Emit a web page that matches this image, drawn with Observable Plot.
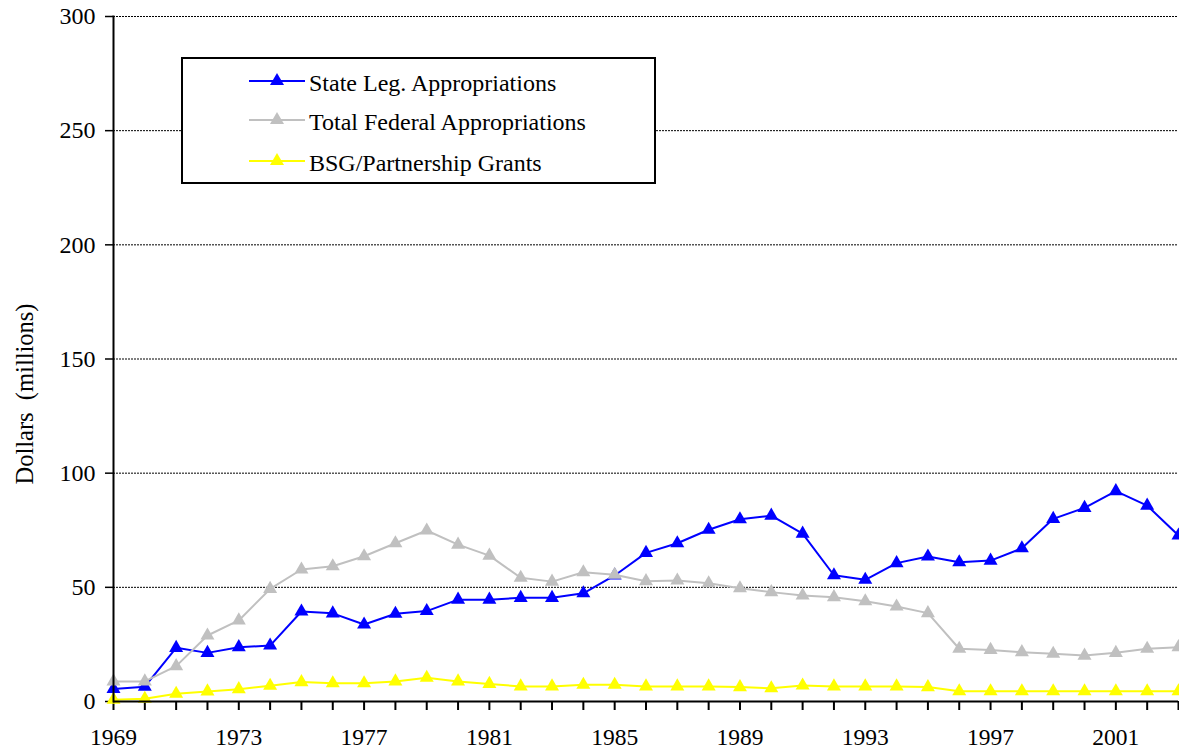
<!DOCTYPE html>
<html>
<head>
<meta charset="utf-8">
<script src="https://cdn.jsdelivr.net/npm/d3@7"></script>
<script src="https://cdn.jsdelivr.net/npm/@observablehq/plot@0.6"></script>
<style>
  html, body { margin: 0; padding: 0; background: #fff; overflow: hidden; }
  #wrap { position: relative; width: 1179px; height: 750px; font-family: "Liberation Serif", "Times New Roman", serif; }
  #wrap svg, #wrap svg text { font-family: "Liberation Serif", "Times New Roman", serif !important; }
  #legend { position: absolute; left: 181px; top: 57px; width: 471px; height: 123px; border: 2px solid #000; background: #fff; box-sizing: content-box; }
</style>
</head>
<body>
<div id="wrap"><div id="legend"></div></div>
<script>
const years = [1969,1970,1971,1972,1973,1974,1975,1976,1977,1978,1979,1980,1981,1982,1983,1984,1985,1986,1987,1988,1989,1990,1991,1992,1993,1994,1995,1996,1997,1998,1999,2000,2001,2002,2003];
const labeledYears = [1969,1973,1977,1981,1985,1989,1993,1997,2001];
const yTicks = [0,50,100,150,200,250,300];

const seriesNames = ["State Leg. Appropriations", "Total Federal Appropriations", "BSG/Partnership Grants"];
const seriesColors = ["#0000FF", "#C0C0C0", "#FFFF00"];

const stateLeg = [5.5,6.5,23.5,21.3,23.8,24.5,39.4,38.6,33.7,38.4,39.6,44.6,44.6,45.4,45.4,47.4,55.2,65.1,69.3,75.2,79.8,81.4,73.5,55.3,53.3,60.6,63.5,61.0,61.7,67.1,80.0,84.8,92.1,85.8,72.7];
const federal = [8.8,8.8,15.5,28.9,35.5,49.3,57.8,59.2,63.6,69.3,74.9,68.7,63.9,54.2,52.5,56.6,55.5,52.7,53.0,51.8,49.6,47.9,46.4,45.7,43.9,41.6,38.7,23.1,22.6,21.6,20.9,20.1,21.3,23.1,23.8];
const bsg = [0.8,1.2,3.4,4.4,5.4,6.9,8.5,8.0,8.0,8.8,10.4,8.8,7.7,6.6,6.6,7.3,7.3,6.6,6.6,6.6,6.3,5.8,7.0,6.6,6.6,6.6,6.3,4.5,4.5,4.5,4.5,4.5,4.5,4.5,4.5];

const yTitle = "Dollars\u00A0 (millions)";
const serif = "'Liberation Serif', 'Times New Roman', serif";

const seriesValues = [stateLeg, federal, bsg];
const seriesData = seriesValues.map((vals, s) =>
  years.map((yr, i) => ({year: yr, value: vals[i], series: seriesNames[s]}))
);

const seriesMarks = seriesData.flatMap((d, s) => [
  Plot.line(d, {x: "year", y: "value", stroke: seriesColors[s], strokeWidth: 2}),
  Plot.dot(d, {x: "year", y: "value", fill: seriesColors[s], stroke: "none", symbol: "triangle", r: 5.2})
]);

const chart = Plot.plot({
  width: 1179,
  height: 750,
  marginLeft: 113,
  marginRight: 1,
  marginTop: 16,
  marginBottom: 49,
  style: {fontFamily: serif, fontSize: "24px", color: "#000", background: "#fff", overflow: "hidden"},
  x: {domain: [1969, 2003]},
  y: {domain: [0, 300]},
  marks: [
    Plot.gridY(yTicks.filter(t => t > 0), {stroke: "#000", strokeOpacity: 1, strokeWidth: 1, strokeDasharray: "2,1"}),
    Plot.axisY({ticks: yTicks, tickSize: 8, tickPadding: 10, strokeWidth: 1.5, label: null, tickFormat: d => String(d), fontSize: 24, fontFamily: serif}),
    Plot.axisX({ticks: years, tickSize: 9, tickPadding: 18, strokeWidth: 2, label: null,
      tickFormat: d => labeledYears.includes(d) ? String(d) : "", fontSize: 23.5, fontFamily: serif}),
    ...seriesMarks,
    Plot.frame({anchor: "left", stroke: "#000", strokeWidth: 2}),
    Plot.ruleY([0], {stroke: "#000", strokeWidth: 2}),
    Plot.text([yTitle], {text: d => d, frameAnchor: "left", textAnchor: "middle", dx: -88, dy: 35, rotate: -90, fontSize: 24.5, fontFamily: serif, fill: "#000"})
  ]
});
document.getElementById("wrap").prepend(chart);

// Legend
const legend = d3.select("#legend");
const rowY = [22, 61, 102];
const lsvg = legend.append("svg").attr("width", 471).attr("height", 123).style("position", "absolute").style("left", 0).style("top", 0);
const tri = d3.symbol(d3.symbolTriangle, Math.PI * 5.2 * 5.2);
seriesNames.forEach((name, i) => {
  lsvg.append("line").attr("x1", 66).attr("x2", 122).attr("y1", rowY[i]).attr("y2", rowY[i])
    .attr("stroke", seriesColors[i]).attr("stroke-width", 2);
  lsvg.append("path").attr("d", tri()).attr("transform", `translate(94,${rowY[i]})`).attr("fill", seriesColors[i]);
  lsvg.append("text").attr("x", 126).attr("y", rowY[i] + 4).attr("dominant-baseline", "middle")
    .attr("font-family", serif).attr("font-size", 24).attr("fill", "#000")
    .text(name);
});
</script>
</body>
</html>
